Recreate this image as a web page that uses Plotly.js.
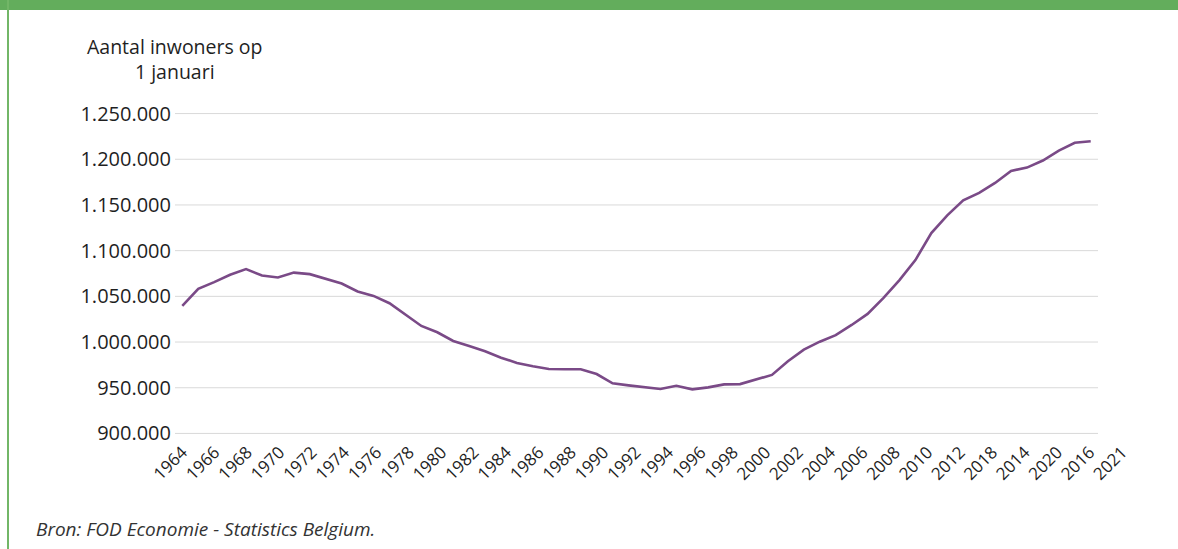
<!DOCTYPE html>
<html>
<head>
<meta charset="utf-8">
<script src="https://cdn.plot.ly/plotly-3.0.1.min.js"></script>
<style>
  html, body { margin: 0; padding: 0; background: #ffffff; }
  #wrap { position: relative; width: 1178px; height: 549px; overflow: hidden; }
  #chart { position: absolute; left: 0; top: 0; width: 1178px; height: 549px; }
  #topbar { position: absolute; left: 0; top: 0; width: 1178px; height: 10px; background: #63ad5c; z-index: 5; pointer-events: none; }
  #leftline { position: absolute; left: 7px; top: 0; width: 2px; height: 549px; background: #72b667; z-index: 5; pointer-events: none; }
</style>
</head>
<body>
<div id="wrap">
  <div id="chart"></div>
  <div id="topbar"></div>
  <div id="leftline"></div>
</div>
<script>
// Years (one value per year, 1 januari)
var years = [];
for (var yr = 1964; yr <= 2021; yr++) { years.push(yr); }

// Population of Brussels on 1 January
var inwoners = [
  1039600, 1058200, 1065600, 1073600, 1079800, 1072800, 1070600, 1076000, 1074300, 1069500,
  1064000, 1055300, 1050500, 1042500, 1029700, 1017600, 1010700, 1001200, 995700, 989900,
  982900, 977100, 973500, 970500, 970200, 970200, 965000, 954800, 952600, 950600,
  948600, 952200, 948200, 950400, 953700, 954000, 959000, 964000, 979000, 991700,
  1000400, 1007500, 1018700, 1030800, 1048400, 1067800, 1089700, 1119300, 1138600, 1155000,
  1163200, 1174100, 1187300, 1190900, 1198600, 1209500, 1218000, 1219800
];

// Tick labels exactly as printed on the category axis
var xTickLabels = [
  "1964","1966","1968","1970","1972","1974","1976","1978","1980","1982",
  "1984","1986","1988","1990","1992","1994","1996","1998","2000","2002",
  "2004","2006","2008","2010","2012","2018","2014","2020","2016","2021"
];

// Y axis ticks
var yTicks = [900000, 950000, 1000000, 1050000, 1100000, 1150000, 1200000, 1250000];

var yearIndex = years.map(function (d, i) { return i; });
var labelIndex = xTickLabels.map(function (d, i) { return i; });

var FONT = "Open Sans, Lato, sans-serif";
var TXT = "#1f1f1f";
var xPad = 0.458;
var xMin = -xPad, xMax = years.length - 1 + xPad;

var traces = [
  {
    type: "scatter",
    mode: "lines",
    x: yearIndex,
    y: inwoners,
    text: years.map(String),
    xaxis: "x",
    yaxis: "y",
    line: { color: "#7a4a87", width: 2.6, shape: "linear" },
    hovertemplate: "%{text}: %{y:,d}<extra></extra>",
    showlegend: false
  },
  {
    type: "scatter",
    mode: "lines",
    x: [],
    y: [],
    xaxis: "x2",
    yaxis: "y",
    hoverinfo: "skip",
    showlegend: false
  }
];

// horizontal gridlines limited to the data area
var gridShapes = yTicks.map(function (v) {
  return {
    type: "line", xref: "x", yref: "y",
    x0: xMin, x1: xMax, y0: v, y1: v,
    line: { color: "#d9d9d9", width: 1 },
    layer: "below"
  };
});

var plotLeft = 175, plotRight = 30;
var paperW = 1178 - plotLeft - plotRight;

var layout = {
  width: 1178,
  height: 549,
  margin: { l: plotLeft, r: plotRight, t: 109.4, b: 111.1, pad: 0 },
  paper_bgcolor: "#ffffff",
  plot_bgcolor: "rgba(0,0,0,0)",
  separators: ",.",
  font: { family: FONT, color: TXT, size: 18 },
  showlegend: false,
  xaxis: {
    domain: [0, 923 / paperW],
    range: [xMin, xMax],
    showgrid: false,
    zeroline: false,
    showline: false,
    ticks: "",
    showticklabels: false,
    fixedrange: true
  },
  xaxis2: {
    anchor: "y",
    domain: [0, 1],
    range: [-0.225, 29.8],
    tickmode: "array",
    tickvals: labelIndex,
    ticktext: xTickLabels,
    tickangle: -45,
    showgrid: false,
    zeroline: false,
    showline: false,
    ticks: "",
    tickfont: { family: FONT, size: 17, color: TXT },
    fixedrange: true
  },
  yaxis: {
    range: [895000, 1255000],
    tickmode: "array",
    tickvals: yTicks,
    tickformat: ",d",
    showgrid: false,
    zeroline: false,
    showline: false,
    ticks: "",
    ticklabelstandoff: 3,
    tickfont: { family: FONT, size: 20, color: TXT },
    fixedrange: true
  },
  shapes: gridShapes,
  annotations: [
    {
      xref: "paper", yref: "paper",
      x: 0, y: 1,
      xanchor: "center", yanchor: "bottom",
      yshift: 22,
      showarrow: false,
      align: "center",
      text: "Aantal inwoners op<br>1 januari",
      font: { family: FONT, size: 19.5, color: TXT }
    },
    {
      xref: "paper", yref: "paper",
      x: 0, y: 0,
      xanchor: "left", yanchor: "middle",
      xshift: -141, yshift: -91,
      showarrow: false,
      align: "left",
      text: "<i>Bron: FOD Economie - Statistics Belgium.</i>",
      font: { family: FONT, size: 19, color: "#333333" }
    }
  ]
};

Plotly.newPlot("chart", traces, layout, { displayModeBar: false, staticPlot: true });
</script>
</body>
</html>
